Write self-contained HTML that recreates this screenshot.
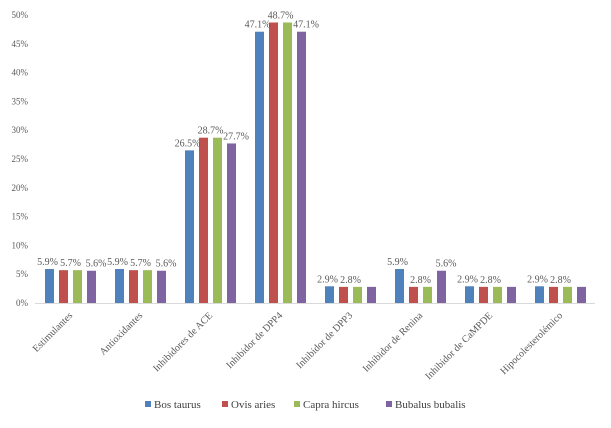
<!DOCTYPE html>
<html><head><meta charset="utf-8"><style>
body{margin:0;background:#fff;width:611px;height:423px;overflow:hidden}
text{font-family:"Liberation Serif",serif;fill:#595959}
</style></head><body>
<svg id="c" width="611" height="423"></svg>
<script>
const categories=["Estimulantes","Antioxidantes","Inhibidores de ACE","Inhibidor de DPP4","Inhibidor de DPP3","Inhibidor de Renina","Inhibidor de CaMPDE","Hipocolesterolémico"];
const seriesNames=["Bos taurus","Ovis aries","Capra hircus","Bubalus bubalis"];
const bos=[5.9,5.9,26.5,47.1,2.9,5.9,2.9,2.9];
const ovis=[5.7,5.7,28.7,48.7,2.8,2.8,2.8,2.8];
const capra=[5.7,5.7,28.7,48.7,2.8,2.8,2.8,2.8];
const bubalus=[5.6,5.6,27.7,47.1,2.8,5.6,2.8,2.8];
const yTicks=[0,5,10,15,20,25,30,35,40,45,50];
const colors=["#4f81bd","#c0504d","#9bbb59","#8064a2"];
const svg=document.getElementById('c');const NS="http://www.w3.org/2000/svg";
const y0=303,yTop=15,x0=35,slot=70;
const y=v=>y0-(v/50)*(y0-yTop);
function mk(t,a){const e=document.createElementNS(NS,t);for(const k in a)e.setAttribute(k,a[k]);svg.appendChild(e);return e;}
yTicks.forEach(t=>{const e=mk('text',{x:28,y:y(t)+3,'text-anchor':'end','font-size':9});e.textContent=t+'%';

});
const ax=mk('line',{x1:x0,x2:x0+slot*8,y1:y0+0.5,y2:y0+0.5,stroke:'#d9d9d9'});


const data=[bos,ovis,capra,bubalus];
categories.forEach((c,i)=>{
 data.forEach((s,j)=>{const bx=x0+10+i*slot+j*14;
  const r=mk('rect',{x:bx,y:y(s[i]),width:9,height:y0-y(s[i]),fill:colors[j]});
  
  });
 const lab=[[bos[i],x0+12.5+i*slot,bos[i]],[ovis[i],x0+i*slot+35.5,Math.max(ovis[i],capra[i])]];
 if(bubalus[i]!==capra[i]) lab.push([bubalus[i],x0+i*slot+61,bubalus[i]]);
 lab.forEach(([v,lx,top])=>{
  const t=mk('text',{x:lx,y:y(top)-4,'text-anchor':'middle','font-size':10});t.textContent=v.toFixed(1)+'%';
  
  });
 const cx=x0+i*slot+38;
 const t=mk('text',{x:cx,y:y0+13,'text-anchor':'end','font-size':10,transform:`rotate(-45 ${cx} ${y0+13})`});t.textContent=c;
 
 
});
const lxs=[145,222,294,386];
seriesNames.forEach((n,j)=>{const g=mk('g',{});
 
 
 const r=document.createElementNS(NS,'rect');r.setAttribute('x',lxs[j]);r.setAttribute('y',401);r.setAttribute('width',6);r.setAttribute('height',6);r.setAttribute('fill',colors[j]);g.appendChild(r);
 const t=document.createElementNS(NS,'text');t.setAttribute('x',lxs[j]+9);t.setAttribute('y',408);t.setAttribute('font-size',11);t.style.fill='#404040';t.textContent=n;g.appendChild(t);});
</script>
</body></html>
